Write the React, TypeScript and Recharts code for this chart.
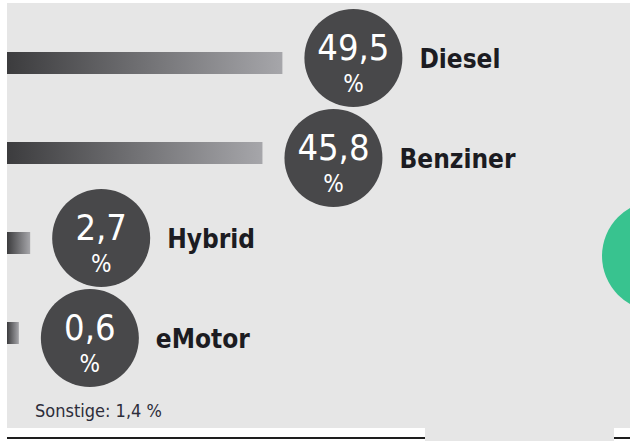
import React from 'react';
import { BarChart, Bar, XAxis, YAxis, LabelList } from 'recharts';

const categories = ['Diesel', 'Benziner', 'Hybrid', 'eMotor'];
const shares = [49.5, 45.8, 2.7, 0.6];
const otherLabel = 'Sonstige';
const otherShare = 1.4;

const data = categories.map((name, i) => ({ name, value: shares[i] }));

const fmt = (v: number) => v.toFixed(1).replace('.', ',');

const FONT = "'DejaVu Sans Condensed', 'Liberation Sans Narrow', 'DejaVu Sans', sans-serif";

const BarShape = (props: any) => {
  const { x, y, width, height, background } = props;
  const left = background && typeof background.x === 'number' ? background.x : x;
  return (
    <rect
      x={left}
      y={y}
      width={Math.max(0, x + width - left)}
      height={height}
      fill="url(#barGrad)"
    />
  );
};

const BubbleLabel = (props: any) => {
  const { x, y, width, height, value, index } = props;
  const cx = x + width + 71;
  const cy = y + height / 2 + (index % 2 === 0 ? -5 : 5);
  return (
    <g>
      <circle cx={cx} cy={cy} r={49} fill="#48484a" />
      <text x={cx} y={cy + 2} textAnchor="middle" fill="#ffffff" fontSize={36} fontFamily={FONT}>
        {fmt(Number(value))}
      </text>
      <text x={cx} y={cy + 34} textAnchor="middle" fill="#ffffff" fontSize={24} fontFamily={FONT}>
        %
      </text>
      <text x={cx + 66} y={cy + 10} fill="#1c1c22" fontSize={26} fontWeight="bold" fontFamily={FONT}>
        {categories[index]}
      </text>
    </g>
  );
};

export default function App() {
  return (
    <div style={{ position: 'absolute', left: 0, top: 0, width: 630, height: 441, background: '#ffffff' }}>
      <svg width={630} height={441} style={{ position: 'absolute', left: 0, top: 0 }}>
        <rect x={7} y={3} width={623} height={425} fill="#e6e6e6" />
        <rect x={425} y={428} width={189} height={13} fill="#e6e6e6" />
        <rect x={7} y={437} width={418} height={2} fill="#1e1e1e" />
        <rect x={614} y={437} width={16} height={2} fill="#1e1e1e" />
        <circle cx={657} cy={256} r={55} fill="#38c38f" />
        <text x={35} y={417} fill="#2d2d3a" fontSize={18} fontFamily={FONT}>
          {`${otherLabel}: ${fmt(otherShare)} %`}
        </text>
      </svg>
      <div style={{ position: 'absolute', left: 0, top: 0 }}>
        <BarChart
          width={630}
          height={441}
          data={data}
          layout="vertical"
          margin={{ top: 18, right: 0, bottom: 63, left: 7 }}
        >
          <defs>
            <linearGradient id="barGrad" x1="0" y1="0" x2="1" y2="0">
              <stop offset="0%" stopColor="#3c3c3e" />
              <stop offset="100%" stopColor="#a6a6aa" />
            </linearGradient>
          </defs>
          <XAxis type="number" domain={[-1.6, 114]} hide />
          <YAxis type="category" dataKey="name" hide />
          <Bar dataKey="value" barSize={22} shape={BarShape} isAnimationActive={false}>
            <LabelList dataKey="value" content={BubbleLabel} />
          </Bar>
        </BarChart>
      </div>
    </div>
  );
}
